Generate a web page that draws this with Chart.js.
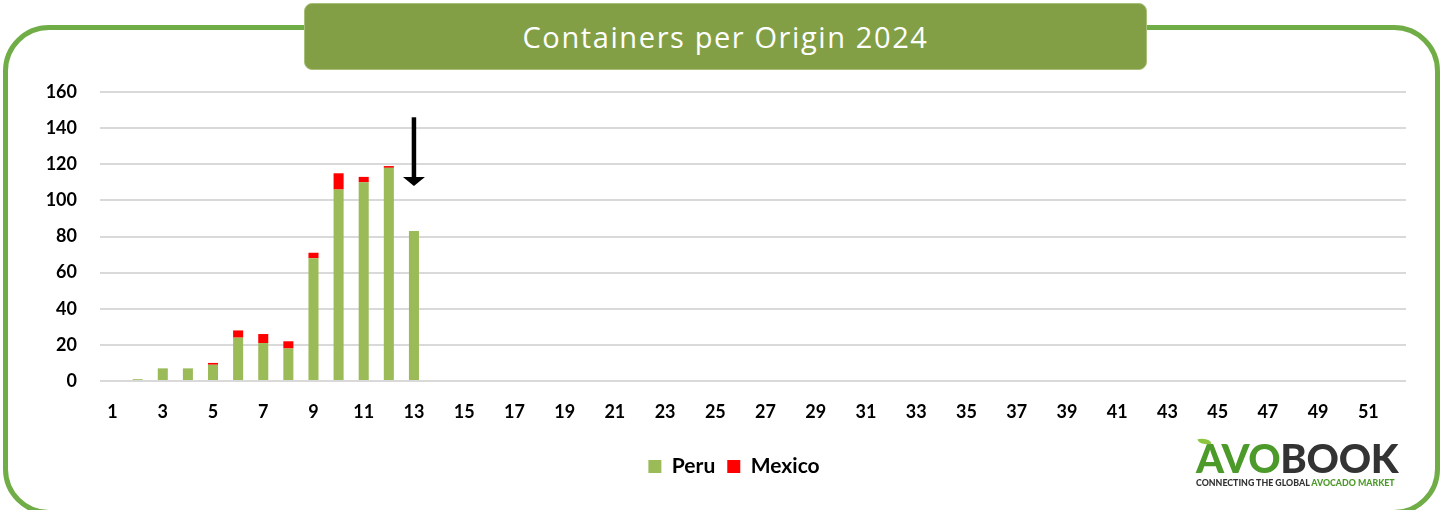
<!DOCTYPE html>
<html>
<head>
<meta charset="utf-8">
<script src="https://cdn.jsdelivr.net/npm/chart.js@4.4.1/dist/chart.umd.min.js"></script>
<style>
  html, body { margin: 0; padding: 0; background: #fff; }
  #wrap { position: relative; width: 1442px; height: 510px; overflow: hidden; }
  #frame { position: absolute; left: 3px; top: 25px; width: 1437px; height: 490px; box-sizing: border-box; border: 5px solid #70ad47; border-radius: 46px; }
  #title { position: absolute; left: 304px; top: 3px; width: 843px; height: 67px; box-sizing: border-box; background: #829f46; border: 1px solid #a7bf78; border-radius: 8px; color: #fff; font: 29px "Open Sans", sans-serif; letter-spacing: 1.6px; text-align: center; line-height: 66px; }
  #chart-box { position: absolute; left: 0; top: 0; width: 1442px; height: 510px; }
  #logo { position: absolute; left: 1196px; top: 438px; width: 210px; }
  #logo .big { font: 900 40px Lato, sans-serif; line-height: 40px; letter-spacing: -0.3px; color: #333; }
  #logo .big span { color: #4c9a2a; }
  #logo .small { font: 900 8.8px Lato, sans-serif; color: #333; margin-top: -1px; white-space: nowrap; }
  #logo .small span { color: #4c9a2a; }
  #leaf { position: absolute; left: 2px; top: 0px; width: 13px; height: 7px; background: #8cc63f; border-radius: 0 100% 0 100%; transform: rotate(-10deg); }
</style>
</head>
<body>
<div id="wrap">
  <div id="frame"></div>
  <div id="chart-box"><canvas id="chart" width="1442" height="510"></canvas></div>
  <div id="title">Containers per Origin 2024</div>
  <div id="logo"><div id="leaf"></div><div class="big"><span>AVO</span>BOOK</div><div class="small">CONNECTING THE GLOBAL <span>AVOCADO MARKET</span></div></div>
</div>
<script>
const WEEKS = ['1','2','3','4','5','6','7','8','9','10','11','12','13','14','15','16','17','18','19','20','21','22','23','24','25','26',
  '27','28','29','30','31','32','33','34','35','36','37','38','39','40','41','42','43','44','45','46','47','48','49','50','51','52'];
const PERU   = [0, 1, 7, 7, 9, 24, 21, 18, 68, 106, 110, 118, 83];
const MEXICO = [0, 0, 0, 0, 1, 4, 5, 4, 3, 9, 3, 1, 0];
const Y_TICKS = [0, 20, 40, 60, 80, 100, 120, 140, 160];
const ARROW = { week: '13', from: 146, to: 108 };

const tickFont = { family: 'Lato, sans-serif', size: 18, weight: 'bold' };

const arrowPlugin = {
  id: 'arrow',
  afterLayout(chart) {
    // legend sits a little right of the canvas centre in the original
    chart.legend.left += 11; chart.legend.right += 11;
  },
  afterDatasetsDraw(chart) {
    const { ctx, scales: { x, y } } = chart;
    const px = x.getPixelForValue(WEEKS.indexOf(ARROW.week));
    const y0 = y.getPixelForValue(ARROW.from), y1 = y.getPixelForValue(ARROW.to);
    ctx.save();
    ctx.strokeStyle = '#000'; ctx.fillStyle = '#000'; ctx.lineWidth = 4.5;
    ctx.beginPath(); ctx.moveTo(px, y0); ctx.lineTo(px, y1 - 6); ctx.stroke();
    ctx.beginPath(); ctx.moveTo(px - 11, y1 - 9); ctx.lineTo(px + 11, y1 - 9); ctx.lineTo(px, y1); ctx.closePath(); ctx.fill();
    ctx.restore();
  }
};

new Chart(document.getElementById('chart').getContext('2d'), {
  type: 'bar',
  data: {
    labels: WEEKS,
    datasets: [
      { label: 'Peru', data: PERU, backgroundColor: '#9bbb59', barPercentage: 0.8, categoryPercentage: 0.5 },
      { label: 'Mexico', data: MEXICO, backgroundColor: '#ff0000', barPercentage: 0.8, categoryPercentage: 0.5 }
    ]
  },
  options: {
    responsive: false, animation: false,
    layout: { padding: { left: 40, right: 36, top: 92, bottom: 23 } },
    plugins: {
      legend: { position: 'bottom', labels: { boxWidth: 13, boxHeight: 13, padding: 12, color: '#000', font: { family: 'Lato, sans-serif', size: 21, weight: 'bold' } } },
      tooltip: { enabled: false }
    },
    scales: {
      x: {
        stacked: true,
        grid: { display: false }, border: { display: false },
        ticks: { color: '#000', font: tickFont, autoSkip: false, maxRotation: 0, padding: 12, callback: (v, i) => i % 2 === 0 ? WEEKS[i] : '' },
        afterFit: s => { s.height = 63; }
      },
      y: {
        stacked: true, min: 0, max: 160,
        afterBuildTicks: s => { s.ticks = Y_TICKS.map(v => ({ value: v })); },
        grid: { color: '#d9d9d9', lineWidth: 2, drawTicks: false }, border: { display: false },
        ticks: { color: '#000', font: tickFont, padding: 23 },
        afterFit: s => { s.width = 60; }
      }
    }
  },
  plugins: [arrowPlugin]
});
</script>
</body>
</html>
